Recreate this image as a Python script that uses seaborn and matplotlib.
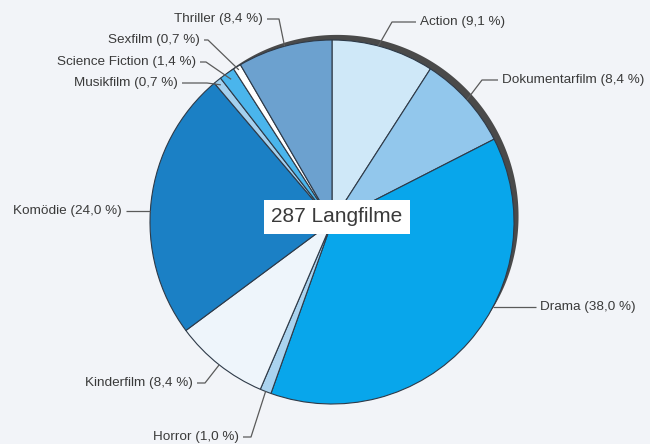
import numpy as np
import matplotlib
matplotlib.use("Agg")
import matplotlib.pyplot as plt
import seaborn as sns
from matplotlib.patches import Polygon

# Genre shares of the 287 feature films (percent), clockwise from 12 o'clock
genres = ["Action", "Dokumentarfilm", "Drama", "Horror", "Kinderfilm",
          "Komödie", "Musikfilm", "Science Fiction", "Sexfilm", "Thriller"]
shares = [9.1, 8.4, 38.0, 1.0, 8.4, 24.0, 0.7, 1.4, 0.7, 8.4]
total_films = 287
center_label = f"{total_films} Langfilme"

slice_colors = ["#cfe8f8", "#92c7ec", "#08a6eb", "#aad3ef", "#eef5fb",
                "#1b80c5", "#a4d0ee", "#4ab5ec", "#ffffff", "#6ca1cf"]

BG = "#f2f4f8"
INK = "#3a3a3a"
LEADER = "#5a5a5a"

sns.set_theme(style="white", rc={"figure.facecolor": BG, "axes.facecolor": BG})
plt.rcParams["font.family"] = ["Liberation Sans", "DejaVu Sans"]

W, H = 650, 444
fig = plt.figure(figsize=(W / 100, H / 100), dpi=100)
ax = fig.add_axes([0, 0, 1, 1])
ax.set_facecolor(BG)

cx, cy, R = 332, 222, 182  # pie centre and radius in figure pixels (y from top)


def P(x, y):
    """Figure pixel (top-left origin) -> data coordinates."""
    return x, H - y


palette = sns.color_palette(slice_colors)
wedges, _ = ax.pie(shares, colors=palette, startangle=90, counterclock=False,
                   center=P(cx, cy), radius=R, normalize=True,
                   wedgeprops=dict(edgecolor="#2e3a48", linewidth=0.8))
for w in wedges:
    w.set_zorder(3)

# dark rim shadow along the upper right of the pie
phi = np.linspace(-30, 126, 200)
t = 7.0 * np.sin(np.pi * (phi + 30) / 156) ** 0.8
rad = np.radians(phi)
outer = np.column_stack([cx + (R + t) * np.cos(rad), H - cy + (R + t) * np.sin(rad)])
inner = np.column_stack([cx + (R - 1) * np.cos(rad), H - cy + (R - 1) * np.sin(rad)])[::-1]
ax.add_patch(Polygon(np.vstack([outer, inner]), closed=True, facecolor="#4a4a4a",
                     edgecolor="none", zorder=2))

# label layout: text position, alignment, elbow, position inside wedge, radius factor
layout = {
    "Action":          (420, 22, "left", (392, 22), 0.45, 1.0),
    "Dokumentarfilm":  (502, 80, "left", (482, 80), 0.5, 1.0),
    "Drama":           (540, 307, "left", None, 0.395, 1.0),
    "Horror":          (239, 437, "right", (251, 437), 0.5, 1.0),
    "Kinderfilm":      (193, 383, "right", (205, 383), 0.5, 1.0),
    "Komödie":         (122, 211, "right", None, 0.468, 1.0),
    "Musikfilm":       (178, 83, "right", (207, 83), 0.5, 0.97),
    "Science Fiction": (196, 62, "right", (206, 62), 0.5, 0.96),
    "Sexfilm":         (200, 40, "right", (208, 40), 0.5, 0.98),
    "Thriller":        (263, 19, "right", (279, 19), 0.5, 1.0),
}

for genre, share, w in zip(genres, shares, wedges):
    tx, ty, ha, elbow, frac, rf = layout[genre]
    ang = np.radians(w.theta2 - frac * (w.theta2 - w.theta1))
    ax_, ay_ = cx + rf * R * np.cos(ang), (H - cy) + rf * R * np.sin(ang)
    label = f"{genre} ({share:.1f} %)".replace(".", ",")
    ax.text(*P(tx, ty), label, ha=ha, va="center", fontsize=9.7, color=INK, zorder=6)
    start = tx + 4 if ha == "right" else tx - 4
    pts = [P(start, ty)]
    if elbow is not None:
        pts.append(P(*elbow))
    else:
        ay_ = H - ty
        ax_ = cx + np.sign(np.cos(ang)) * np.sqrt(R ** 2 - (ay_ - (H - cy)) ** 2)
    pts.append((ax_, ay_))
    xs, ys = zip(*pts)
    ax.plot(xs, ys, color=LEADER, lw=0.9, zorder=5, solid_capstyle="butt")

ax.text(*P(337, 217), center_label, ha="center", va="center", fontsize=15, color=INK,
        zorder=7, bbox=dict(boxstyle="square,pad=0.35", facecolor="white",
                            edgecolor="none"))

ax.set_xlim(0, W)
ax.set_ylim(0, H)
ax.set_aspect("equal")
ax.axis("off")

fig.savefig("out.png", dpi=100, facecolor=BG)
